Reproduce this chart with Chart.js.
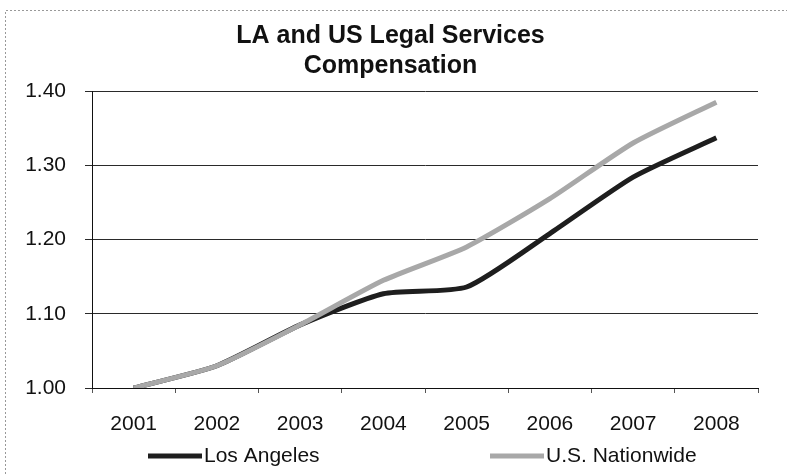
<!DOCTYPE html>
<html>
<head>
<meta charset="utf-8">
<title>LA and US Legal Services Compensation</title>
<script src="https://cdn.jsdelivr.net/npm/chart.js@4.4.1/dist/chart.umd.min.js"></script>
<style>
  html, body { margin: 0; padding: 0; background: #fff; }
  #wrap { width: 787px; height: 474px; }
</style>
</head>
<body>
<div id="wrap"><canvas id="compChart" width="787" height="474"></canvas></div>
<script>
// data
const years = ['2001', '2002', '2003', '2004', '2005', '2006', '2007', '2008'];
const losAngeles   = [1.00, 1.03, 1.085, 1.127, 1.136, 1.208, 1.284, 1.337];
const usNationwide = [1.00, 1.03, 1.085, 1.145, 1.190, 1.255, 1.330, 1.385];
const yTicks = [1.00, 1.10, 1.20, 1.30, 1.40];

const FONT = '"Liberation Sans", Arial, sans-serif';

// thin dotted frame like the scan
const framePlugin = {
  id: 'frame',
  beforeDraw(chart) {
    const ctx = chart.ctx;
    ctx.save();
    ctx.fillStyle = '#fff';
    ctx.fillRect(0, 0, chart.width, chart.height);
    ctx.strokeStyle = '#999';
    ctx.lineWidth = 1;
    ctx.setLineDash([2, 2]);
    ctx.beginPath();
    ctx.moveTo(5.5, chart.height);
    ctx.lineTo(5.5, 10.5);
    ctx.lineTo(chart.width, 10.5);
    ctx.stroke();
    ctx.restore();
  }
};

// legend under the axis, wide gap between the two entries
const bottomLegend = {
  id: 'bottomLegend',
  afterDraw(chart) {
    const ctx = chart.ctx;
    const area = chart.chartArea;
    const starts = [area.left + 56, area.left + 398];
    const y = 456;
    ctx.save();
    ctx.font = '21px ' + FONT;
    ctx.textBaseline = 'middle';
    ctx.textAlign = 'left';
    chart.data.datasets.forEach((ds, i) => {
      const x = starts[i];
      ctx.strokeStyle = ds.borderColor;
      ctx.lineWidth = 5;
      ctx.beginPath();
      ctx.moveTo(x, y);
      ctx.lineTo(x + 54, y);
      ctx.stroke();
      ctx.fillStyle = '#111';
      ctx.fillText(ds.label, x + 56, y);
    });
    ctx.restore();
  }
};

const ctx = document.getElementById('compChart').getContext('2d');
new Chart(ctx, {
  type: 'line',
  data: {
    labels: years,
    datasets: [
      {
        label: 'Los Angeles',
        data: losAngeles,
        borderColor: '#1e1e1e',
        borderWidth: 5,
        pointRadius: 0,
        tension: 0.2,
        fill: false,
        order: 1
      },
      {
        label: 'U.S. Nationwide',
        data: usNationwide,
        borderColor: '#a8a8a8',
        borderWidth: 5,
        pointRadius: 0,
        tension: 0.2,
        fill: false,
        order: 0
      }
    ]
  },
  options: {
    responsive: false,
    animation: false,
    layout: {
      padding: { top: 10, left: 23, right: 29, bottom: 38 }
    },
    scales: {
      y: {
        min: 1.0,
        max: 1.4,
        afterFit: (scale) => { scale.width = 69; },
        afterBuildTicks: (scale) => {
          scale.ticks = yTicks.map(v => ({ value: v }));
        },
        ticks: {
          padding: 19,
          color: '#111',
          font: { family: FONT, size: 21 },
          callback: (v) => Number(v).toFixed(2)
        },
        grid: {
          color: '#2a2a2a',
          lineWidth: 1,
          tickLength: 7,
          drawTicks: true
        },
        border: { display: true, color: '#111', width: 1 }
      },
      x: {
        offset: true,
        afterFit: (scale) => { scale.height = 48; },
        ticks: {
          padding: 19,
          color: '#111',
          font: { family: FONT, size: 21 },
          maxRotation: 0
        },
        grid: {
          offset: true,
          drawOnChartArea: false,
          drawTicks: true,
          tickLength: 5,
          color: '#555'
        },
        border: { display: true, color: '#111', width: 1 }
      }
    },
    plugins: {
      legend: { display: false },
      tooltip: { enabled: false },
      title: {
        display: true,
        text: ['LA and US Legal Services', 'Compensation'],
        color: '#111',
        font: { family: FONT, size: 25, weight: 'bold', lineHeight: 1.2 },
        padding: { top: 11, bottom: 10 }
      }
    }
  },
  plugins: [framePlugin, bottomLegend]
});
</script>
</body>
</html>
